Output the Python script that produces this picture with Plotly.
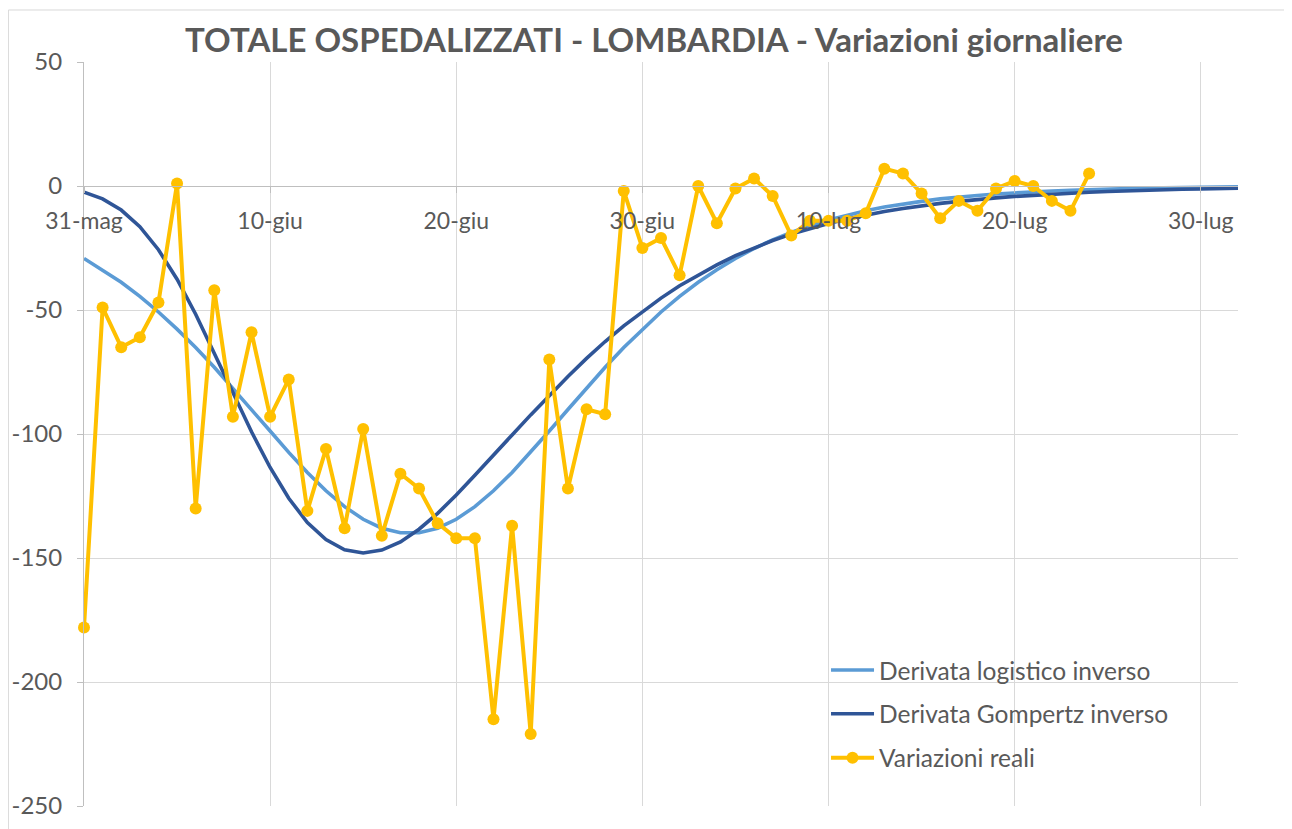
import pandas as pd
import plotly.graph_objects as go

# ---- data ----
start_date = "2020-05-31"
n_days_curves = 63          # 31-mag .. 1-ago

logistic_vals = [
    -29.2, -33.8, -38.8, -44.5, -50.8, -57.7, -65.1, -73.1, -81.5, -90.1,
    -98.8, -107.4, -115.5, -122.9, -129.3, -134.4, -138.0, -139.8, -139.8, -138.0,
    -134.4, -129.3, -122.9, -115.5, -107.4, -98.8, -90.1, -81.5, -73.1, -65.1,
    -57.7, -50.8, -44.5, -38.8, -33.8, -29.2, -25.2, -21.7, -18.7, -16.0,
    -13.7, -11.7, -10.0, -8.5, -7.2, -6.2, -5.2, -4.4, -3.8, -3.2,
    -2.7, -2.3, -2.0, -1.7, -1.4, -1.2, -1.0, -0.85, -0.72, -0.61,
    -0.52, -0.44, -0.37,
]

gompertz_vals = [
    -2.5, -5.2, -9.7, -16.4, -25.7, -37.6, -51.7, -67.2, -83.3, -99.1,
    -113.5, -125.9, -135.7, -142.6, -146.7, -148.0, -146.8, -143.5, -138.4, -132.0,
    -124.6, -116.6, -108.3, -100.4, -92.3, -84.5, -76.8, -69.5, -62.7, -56.4,
    -50.6, -45.2, -40.2, -35.8, -31.8, -28.1, -24.9, -22.0, -19.4, -17.1,
    -15.1, -13.3, -11.7, -10.3, -9.1, -8.0, -7.0, -6.2, -5.4, -4.8,
    -4.2, -3.7, -3.3, -2.9, -2.5, -2.2, -1.9, -1.7, -1.5, -1.3,
    -1.2, -1.0, -0.9,
]

real_vals = [
    -178, -49, -65, -61, -47, 1, -130, -42, -93, -59,
    -93, -78, -131, -106, -138, -98, -141, -116, -122, -136,
    -142, -142, -215, -137, -221, -70, -122, -90, -92, -2,
    -25, -21, -36, 0, -15, -1, 3, -4, -20, -14,
    -14, -14, -11, 7, 5, -3, -13, -6, -10, -1,
    2, 0, -6, -10, 5,
]

tick_dates = ["2020-05-31", "2020-06-10", "2020-06-20", "2020-06-30",
              "2020-07-10", "2020-07-20", "2020-07-30"]
tick_labels = ["31-mag", "10-giu", "20-giu", "30-giu", "10-lug", "20-lug", "30-lug"]
y_ticks = [50, 0, -50, -100, -150, -200, -250]
y_tick_labels = ["50", "0", "-50", "-100", "-150", "-200", "-250"]

series_names = ["Derivata logistico inverso", "Derivata Gompertz inverso", "Variazioni reali"]
series_colors = ["#5B9BD5", "#2F5597", "#FFC000"]

dates = pd.date_range(start_date, periods=n_days_curves, freq="D")
dates_real = dates[:len(real_vals)]

FONT = "Lato"
GRAY_TXT = "#595959"
GRID = "#D9D9D9"
AXIS = "#BFBFBF"

fig = go.Figure()
fig.add_trace(go.Scatter(
    x=dates, y=logistic_vals, mode="lines", name=series_names[0],
    line=dict(color=series_colors[0], width=3.6), legendgroup="a"))
fig.add_trace(go.Scatter(
    x=dates, y=gompertz_vals, mode="lines", name=series_names[1],
    line=dict(color=series_colors[1], width=3.6), legendgroup="b"))
fig.add_trace(go.Scatter(
    x=dates_real, y=real_vals, mode="lines+markers", name=series_names[2],
    line=dict(color=series_colors[2], width=4),
    marker=dict(color=series_colors[2], size=12), legendgroup="c",
    cliponaxis=False))

fig.update_layout(
    width=1292, height=829,
    margin=dict(l=76, r=62, t=54, b=31, autoexpand=False),
    paper_bgcolor="white", plot_bgcolor="white",
    font=dict(family=FONT, color=GRAY_TXT),
    title=dict(text="<b>TOTALE OSPEDALIZZATI - LOMBARDIA - Variazioni giornaliere</b>",
               x=0.5, xanchor="center", y=1 - 32 / 829, yanchor="middle",
               font=dict(family=FONT, size=33, color=GRAY_TXT)),
    showlegend=True,
    legend=dict(
        x=0.643, xanchor="left", y=0.213, yanchor="top",
        bgcolor="rgba(0,0,0,0)", borderwidth=0,
        font=dict(family=FONT, size=24.5, color=GRAY_TXT),
        traceorder="grouped", tracegroupgap=9,
        itemwidth=43,
    ),
    xaxis=dict(
        type="date",
        range=["2020-05-31", "2020-08-01"],
        tickvals=tick_dates, ticktext=tick_labels,
        showgrid=True, gridcolor=GRID, gridwidth=1,
        showline=True, linecolor=AXIS, linewidth=1,
        ticks="outside", ticklen=6, tickcolor=AXIS,
        ticklabelstandoff=8,
        tickfont=dict(family=FONT, size=23, color=GRAY_TXT),
        anchor="free", position=250 / 300,
        zeroline=False, automargin=False,
    ),
    yaxis=dict(
        range=[-250, 50],
        tickvals=y_ticks, ticktext=y_tick_labels,
        showgrid=True, gridcolor=GRID, gridwidth=1,
        showline=True, linecolor=AXIS, linewidth=1,
        ticks="outside", ticklen=6, tickcolor=AXIS,
        ticklabelstandoff=10,
        tickfont=dict(family=FONT, size=24, color=GRAY_TXT),
        zeroline=False, automargin=False,
    ),
    shapes=[
        dict(type="rect", xref="paper", yref="paper",
             x0=-0.0655, x1=1.2, y0=-0.2, y1=1.0699,
             line=dict(color=GRID, width=1), fillcolor="rgba(0,0,0,0)",
             layer="below"),
        # white legend background box
        dict(type="rect", xref="paper", yref="paper",
             x0=0.6014, x1=0.980, y0=0.035, y1=0.2097,
             line=dict(width=0), fillcolor="white", layer="between"),
    ],
)

fig.write_html("out.html")
